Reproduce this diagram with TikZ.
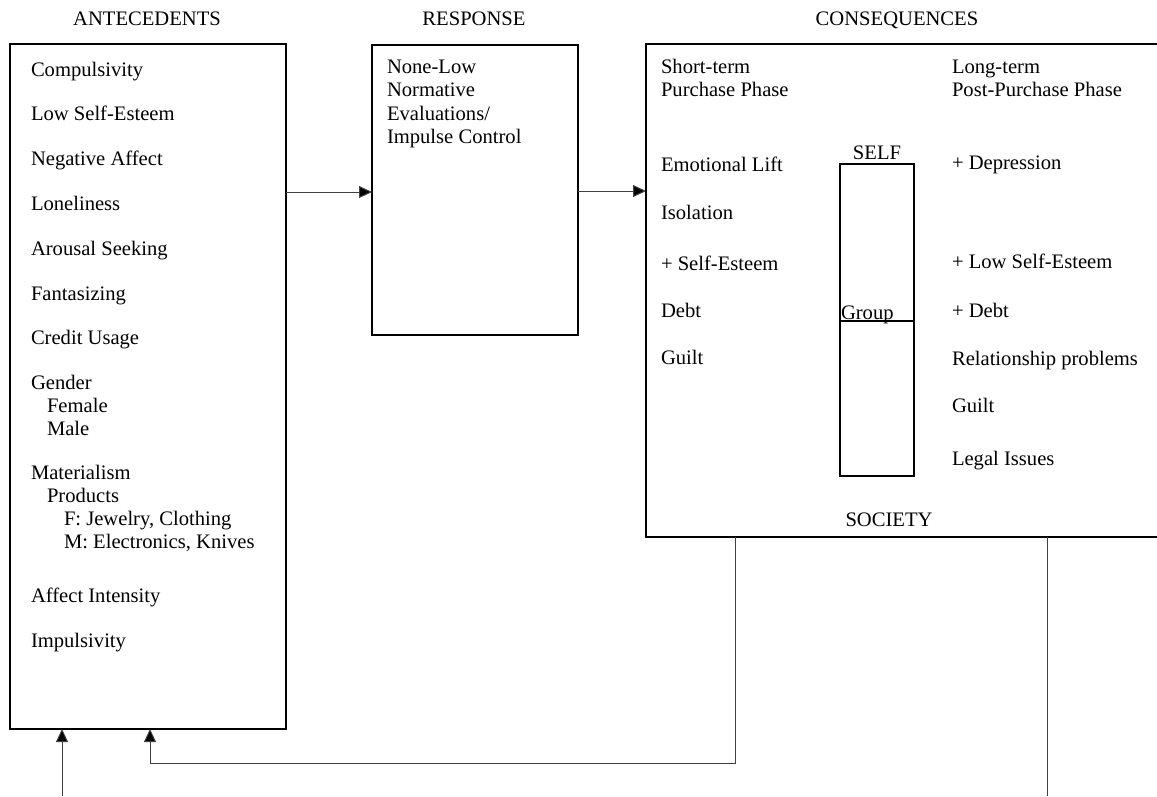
\documentclass[tikz,border=0pt]{standalone}
\usepackage{fontspec}
\setmainfont{Liberation Serif}
\usetikzlibrary{arrows.meta}
\begin{document}
\begin{tikzpicture}[x=1pt,y=-1pt,
  every node/.style={font=\fontsize{20.6}{23}\selectfont, inner sep=0pt, outer sep=0pt},
  item/.style={anchor=base west},
  head/.style={anchor=base},
  frame/.style={draw=black, line width=1.4pt},
  link/.style={draw=black!75, line width=1pt},
  tip/.style={-{Triangle[length=13pt,width=12pt,fill=black]}}]
\useasboundingbox (0,0) rectangle (1157,796);

% main boxes
\draw[frame] (10,44) rectangle (286,729);
\draw[frame] (372,45) rectangle (578,335);
\draw[frame] (646,44) rectangle (1170,537);
\draw[frame] (840,164) rectangle (914,476);
\draw[frame] (840,321) -- (914,321);
\coordinate (ant) at (286,192);
\coordinate (respL) at (372,192);
\coordinate (respR) at (578,191);
\coordinate (consL) at (646,191);

% column headings
\node[head] (hA) at (147,25) {ANTECEDENTS};
\node[head] (hR) at (474,25) {RESPONSE};
\node[head] (hC) at (897,25) {CONSEQUENCES};

% antecedents
\node[item] (a1) at (31,76) {Compulsivity};
\node[item] (a2) at (31,120) {Low Self-Esteem};
\node[item] (a3) at (31,165) {Negative Affect};
\node[item] (a4) at (31,210) {Loneliness};
\node[item] (a5) at (31,255) {Arousal Seeking};
\node[item] (a6) at (31,300) {Fantasizing};
\node[item] (a7) at (31,344) {Credit Usage};
\node[item] (a8) at (31,389) {Gender};
\node[item] (a9) at (47,412) {Female};
\node[item] (a10) at (47,435) {Male};
\node[item] (a11) at (31,479) {Materialism};
\node[item] (a12) at (47,502) {Products};
\node[item] (a13) at (64,525) {F: Jewelry, Clothing};
\node[item] (a14) at (64,548) {M: Electronics, Knives};
\node[item] (a15) at (31,602) {Affect Intensity};
\node[item] (a16) at (31,647) {Impulsivity};

% response
\node[item] (r1) at (387,73) {None-Low};
\node[item] (r2) at (387,96) {Normative};
\node[item] (r3) at (387,120) {Evaluations/};
\node[item] (r4) at (387,143) {Impulse Control};

% consequences, short term
\node[item] (s0) at (661,73) {Short-term};
\node[item] (s00) at (661,96) {Purchase Phase};
\node[item] (s1) at (661,171) {Emotional Lift};
\node[item] (s2) at (661,219) {Isolation};
\node[item] (s3) at (661,270) {+ Self-Esteem};
\node[item] (s4) at (661,317) {Debt};
\node[item] (s5) at (661,364) {Guilt};

% consequences, long term
\node[item] (l0) at (952,73) {Long-term};
\node[item] (l00) at (952,96) {Post-Purchase Phase};
\node[item] (l1) at (952,169) {+ Depression};
\node[item] (l2) at (952,268) {+ Low Self-Esteem};
\node[item] (l3) at (952,317) {+ Debt};
\node[item] (l4) at (952,365) {Relationship problems};
\node[item] (l5) at (952,412) {Guilt};
\node[item] (l6) at (952,465) {Legal Issues};

% levels
\node[head] (self) at (877,159) {SELF};
\node[item] (grp) at (841,319) {Group};
\node[head] (soc) at (889,526) {SOCIETY};

% connectors
\coordinate (fbTop) at (735,537);
\coordinate (fbEnd) at (150,729);
\coordinate (inBot) at (62,796);
\coordinate (inTop) at (62,729);
\coordinate (outTop) at (1047,537);
\coordinate (outBot) at (1047,796);
\draw[link,tip] (ant) -- (respL);
\draw[link,tip] (respR) -- (consL);
\draw[link,tip] (fbTop) |- (150,763) -- (fbEnd);
\draw[link,tip] (inBot) -- (inTop);
\draw[link] (outTop) -- (outBot);
\end{tikzpicture}
\end{document}
